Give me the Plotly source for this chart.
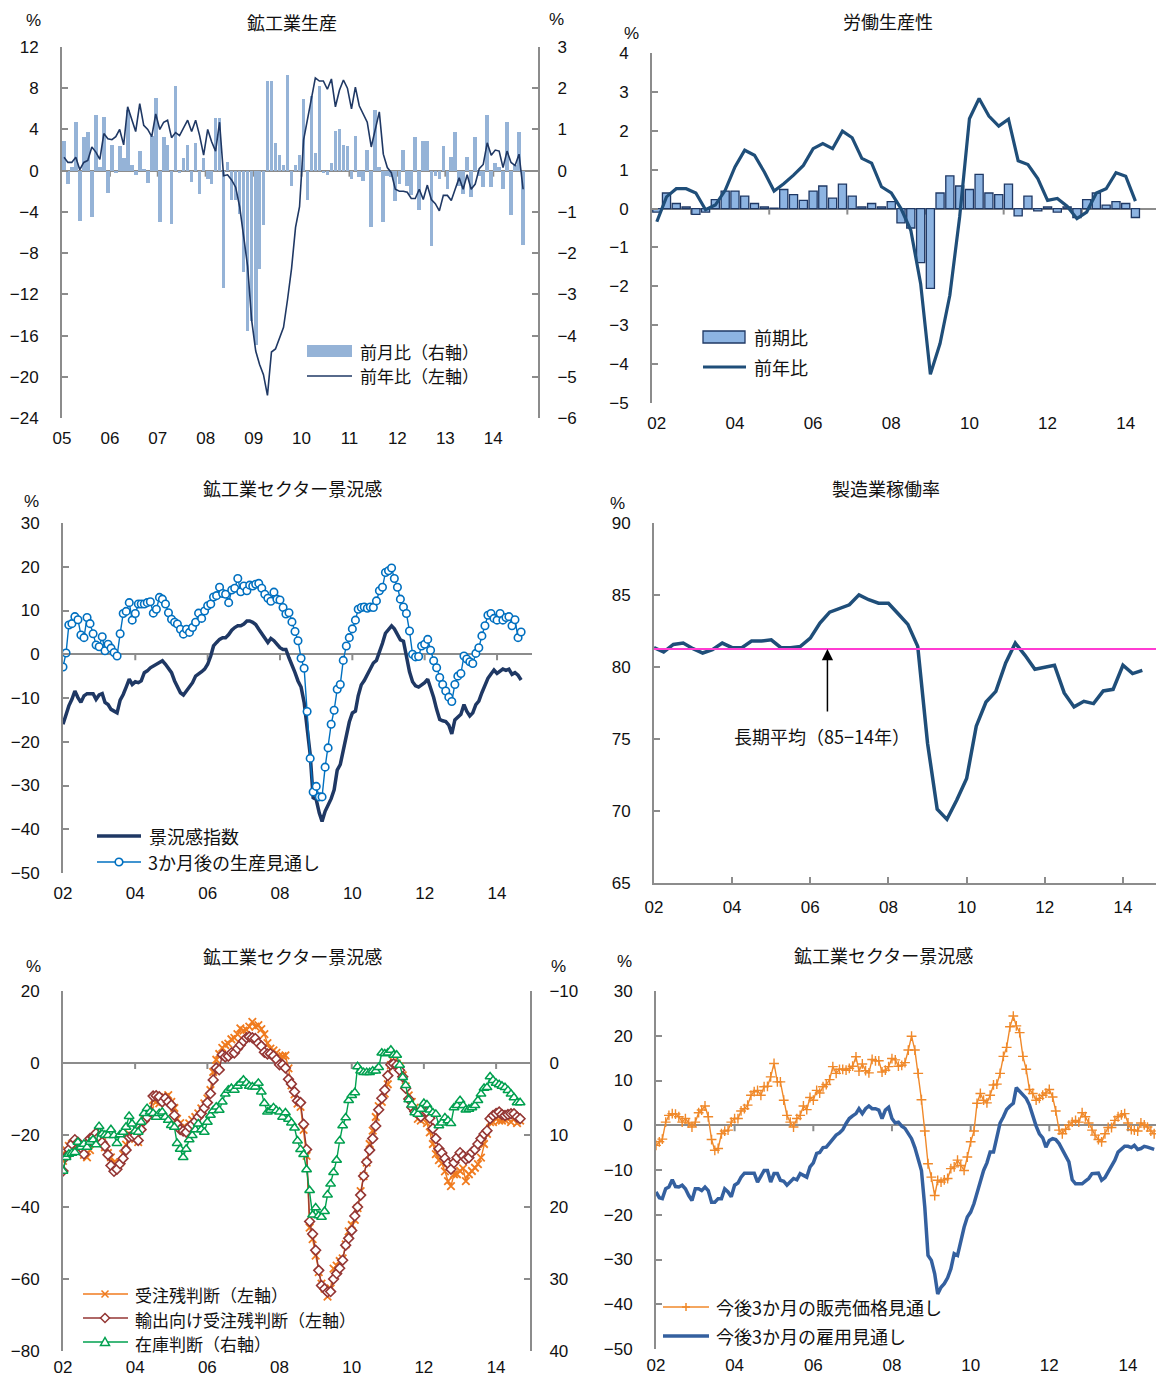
import pandas as pd
import plotly.graph_objects as go

W, H = 1156, 1378
def px(x): return x / W
def py(y): return 1 - y / H

# ---------------- data ----------------
# Panel 1: 鉱工業生産 (monthly 2005-01 .. 2014-08)
ip_months = pd.date_range("2005-01-01", periods=116, freq="MS")
ip_mom = [0.71, -0.32, 0.08, 1.17, -1.21, 0.81, 0.93, -1.12, 1.35, 0.08, 1.31, -0.53,
          0.63, -0.06, 0.61, 0.30, 1.47, 0.14, -0.10, 0.47, 0.04, -0.31, 0.85, 1.76,
          -1.24, 0.81, 0.63, -1.29, 2.06, -0.06, 0.30, 0.63, -0.28, 0.67, -0.57, 0.30,
          -0.20, -0.32, 1.27, 1.27, -2.84, 0.20, -0.70, -0.70, -1.04, -2.47, -3.90, -3.64,
          -4.22, -2.39, -1.33, 2.18, 2.18, 0.67, 0.38, 0.14, 2.31, -0.36, 0.14, 0.39,
          1.74, -0.70, 1.82, 0.42, 2.06, -0.06, -0.10, 0.18, 0.97, 1.01, 0.63, 0.61,
          -0.20, 0.85, -0.15, -0.24, 0.50, -1.37, 1.47, 0.08, -1.24, -0.12, -0.16, -0.73,
          -0.32, 0.50, -0.36, -0.60, 0.81, -0.95, 0.71, 0.71, -1.82, -0.12, -0.20, 0.59,
          -0.44, 0.34, 0.95, -0.36, -0.57, 0.34, -0.65, 0.81, -0.12, -0.40, 1.35, -0.40,
          0.18, 0.08, -0.44, 1.17, -1.08, 0.14, 0.93, -1.80]
ip_yoy = [1.3, 0.8, 0.8, 1.3, 0.1, 0.8, 1.0, 2.3, 1.8, 1.1, 3.6, 3.1,
          3.0, 3.3, 4.0, 2.5, 6.2, 5.0, 3.8, 6.5, 4.4, 4.0, 3.3, 5.5,
          4.0, 4.7, 4.9, 3.2, 3.7, 3.4, 4.1, 4.9, 3.8, 4.9, 3.4, 1.5,
          4.0, 2.8, 1.9, 4.7, -0.5, -0.4, -0.9, -1.6, -3.5, -6.5, -9.3, -14.5,
          -17.5, -18.8, -19.8, -21.8, -17.6, -17.3, -16.2, -15.2, -12.5, -9.5, -5.5, -3.5,
          3.0, 5.0, 7.3, 9.0, 8.7, 8.7, 7.9, 8.9, 6.2, 7.8, 8.8, 8.0,
          6.0, 8.1, 6.3, 5.5, 4.7, 2.3, 3.9, 5.7, 1.6, 0.3, -0.2, -1.8,
          -2.0, -2.0, -2.1, -2.7, -2.7, -1.8, -2.8, -1.4, -2.8, -3.2, -3.9, -2.4,
          -2.4, -2.9, -1.8, -0.7, -1.8, -0.4, -1.8, -1.3, 0.2, 0.6, 2.7, 1.5,
          2.0, 1.9, 0.3, 1.9, 0.8, 0.5, 1.6, -1.8]

# Panel 2: 労働生産性 (quarterly 2002Q1 .. 2014Q2)
lp_quarters = pd.date_range("2002-01-01", periods=50, freq="QS")
lp_qoq = [-0.09, 0.40, 0.13, 0.04, -0.15, -0.09, 0.23, 0.45, 0.45, 0.32, 0.13, 0.04,
          0.01, 0.49, 0.36, 0.21, 0.45, 0.58, 0.27, 0.63, 0.32, 0.04, 0.13, 0.04,
          0.18, -0.37, -0.50, -1.39, -2.05, 0.40, 0.84, 0.58, 0.49, 0.88, 0.40, 0.36,
          0.63, -0.19, 0.32, -0.06, 0.04, -0.09, 0.04, -0.23, 0.23, 0.40, 0.09, 0.18,
          0.13, -0.23]
lp_yoy = [-0.34, 0.30, 0.51, 0.51, 0.40, -0.03, 0.09, 0.47, 1.07, 1.50, 1.37, 0.94,
          0.45, 0.64, 0.86, 1.11, 1.54, 1.67, 1.54, 1.99, 1.82, 1.29, 1.17, 0.56,
          0.40, 0.00, -0.56, -1.93, -4.26, -3.47, -2.23, -0.21, 2.31, 2.83, 2.38, 2.12,
          2.30, 1.23, 1.13, 0.77, 0.21, 0.26, 0.06, -0.26, -0.09, 0.40, 0.51, 0.92,
          0.83, 0.19]

# Panel 3: 鉱工業セクター景況感 (monthly 2002-01 .. 2014-09)
bs_months = pd.date_range("2002-01-01", periods=153, freq="MS")
bs_index = [-16.0, -13.7, -11.8, -10.3, -8.4, -9.9, -11.0, -9.5, -9.0, -9.0, -9.0, -10.3,
            -9.3, -9.0, -11.0, -11.5, -12.6, -13.0, -13.4, -10.5, -9.2, -7.5, -5.7, -6.9,
            -6.3, -6.5, -6.1, -4.2, -3.8, -3.1, -2.7, -2.5, -1.9, -1.5, -2.3, -3.1,
            -4.2, -6.1, -7.6, -8.8, -9.3, -8.4, -7.5, -6.5, -5.0, -4.6, -4.0, -3.4,
            -2.3, -0.4, 1.9, 2.7, 3.4, 3.8, 3.8, 4.5, 5.5, 6.1, 6.5, 6.5,
            6.9, 7.6, 7.6, 7.3, 6.8, 5.7, 4.6, 3.5, 2.7, 3.6, 3.1, 2.3,
            1.5, 1.1, 1.1, -0.8, -2.3, -4.2, -6.1, -7.5, -11.0, -16.8, -22.9, -32.8,
            -33.2, -36.3, -38.2, -35.9, -34.4, -33.0, -31.0, -26.5, -25.2, -22.0, -18.0, -15.5,
            -13.4, -13.0, -9.5, -7.0, -6.0, -4.5, -3.2, -2.0, -1.4, 0.4, 2.5, 4.8,
            5.7, 6.5, 5.8, 4.7, 3.3, 3.0, -1.0, -4.0, -6.3, -7.2, -7.5, -7.0,
            -6.5, -5.7, -7.6, -9.9, -12.6, -14.9, -15.2, -15.4, -16.2, -18.2, -15.0, -14.4,
            -13.7, -11.5, -13.0, -14.1, -13.4, -11.5, -10.7, -8.8, -7.3, -5.5, -4.5, -3.6,
            -4.4, -3.8, -3.4, -3.7, -3.4, -4.6, -4.2, -4.8, -5.9]
bs_prod_outlook = [-2.9, 0.3, 6.7, 7.0, 8.6, 7.9, 4.4, 3.8, 8.4, 7.0, 4.7, 2.1,
                   1.7, 4.0, 0.8, 2.3, 1.4, 0.4, -0.4, 4.7, 9.3, 9.8, 11.8, 7.8,
                   9.3, 11.5, 11.5, 11.5, 11.8, 12.0, 9.4, 10.3, 13.0, 12.6, 11.5, 9.5,
                   8.0, 7.3, 6.9, 5.7, 4.6, 5.7, 5.0, 6.1, 7.3, 9.4, 8.2, 9.9,
                   11.1, 11.5, 13.1, 13.4, 15.3, 13.9, 13.7, 11.8, 14.7, 15.1, 17.3, 14.3,
                   15.6, 14.5, 15.8, 15.6, 16.0, 16.2, 15.1, 13.7, 12.8, 12.1, 14.2, 12.6,
                   12.4, 10.7, 9.2, 9.5, 7.4, 5.2, 3.1, -0.9, -3.2, -13.1, -23.8, -31.5,
                   -30.2, -32.6, -32.6, -25.8, -21.4, -16.0, -12.8, -8.0, -6.9, -1.4, 1.9, 3.8,
                   5.8, 7.8, 10.3, 10.7, 10.8, 10.5, 10.8, 10.7, 12.2, 14.5, 15.3, 18.7,
                   19.1, 19.7, 17.3, 15.3, 12.6, 10.8, 9.3, 5.3, 0.0, -0.6, -0.5, 1.9,
                   2.3, 3.4, 0.9, -1.5, -3.1, -5.3, -6.9, -8.4, -9.8, -10.8, -6.9, -5.0,
                   -4.4, -0.4, -1.1, -1.7, -2.1, 0.2, 1.5, 4.2, 6.5, 8.9, 9.3, 8.2,
                   7.8, 9.3, 7.8, 8.4, 8.6, 6.5, 7.9, 3.8, 5.1]

# Panel 4: 製造業稼働率 (quarterly 2002Q1 .. 2014Q3)
cu_quarters = pd.date_range("2002-01-01", periods=51, freq="QS")
cu_rate = [81.34, 81.04, 81.57, 81.66, 81.27, 80.97, 81.20, 81.66, 81.34, 81.34, 81.80, 81.80,
           81.89, 81.34, 81.34, 81.43, 82.00, 83.05, 83.81, 84.04, 84.32, 85.01, 84.67, 84.43,
           84.43, 83.70, 82.96, 81.43, 74.69, 70.12, 69.42, 70.76, 72.26, 75.89, 77.57, 78.31,
           80.28, 81.66, 80.81, 79.84, 79.95, 80.12, 78.20, 77.23, 77.62, 77.46, 78.34, 78.45,
           80.12, 79.54, 79.77]
cu_long_term_avg = 81.25

# Panel 5: 受注残・輸出向け受注残・在庫判断 (monthly 2002-01 .. 2014-09)
ord_backlog = [-27.2, -24.2, -23.0, -22.5, -22.0, -22.8, -23.4, -25.5, -26.2, -24.2, -21.5, -20.0,
               -21.0, -22.0, -23.4, -25.0, -26.2, -27.6, -29.0, -27.6, -25.3, -22.7, -19.7, -20.5,
               -21.1, -22.0, -17.5, -15.5, -14.0, -13.1, -10.3, -10.8, -11.2, -10.3, -9.5, -8.9,
               -10.8, -12.5, -15.5, -16.7, -17.8, -18.0, -16.8, -15.8, -15.0, -14.0, -12.6, -11.2,
               -9.8, -7.5, -2.5, 0.9, 2.5, 4.2, 5.0, 5.4, 6.6, 7.0, 8.0, 9.6,
               9.0, 9.2, 10.1, 11.4, 10.1, 10.5, 9.4, 8.0, 5.5, 4.0, 3.5, 2.8,
               2.0, 1.9, 2.1, -1.5, -6.2, -8.7, -11.3, -12.2, -18.6, -25.8, -45.7, -48.9,
               -53.5, -58.1, -61.3, -62.7, -64.9, -62.7, -57.1, -56.3, -55.0, -54.3, -50.4, -46.8,
               -45.0, -43.6, -40.3, -35.6, -31.4, -27.7, -22.5, -18.8, -15.0, -12.0, -10.8, -8.5,
               -5.9, -0.6, 0.4, -0.1, -1.0, -3.4, -6.5, -9.0, -10.8, -12.4, -15.5, -16.0,
               -14.1, -16.7, -19.3, -22.5, -25.3, -27.0, -27.9, -30.1, -32.8, -34.2, -30.9, -30.9,
               -30.0, -29.3, -32.8, -30.9, -30.0, -29.1, -28.1, -26.3, -22.5, -19.7, -16.4, -16.4,
               -15.5, -16.0, -16.0, -15.8, -15.5, -16.4, -15.5, -16.7, -16.0]
ord_export = [-30.0, -26.0, -24.0, -22.5, -21.3, -22.0, -23.5, -25.3, -22.5, -21.0, -20.6, -19.5,
              -20.5, -22.0, -23.1, -25.5, -28.5, -30.1, -29.5, -28.0, -26.5, -24.2, -20.6, -20.3,
              -20.1, -21.5, -18.5, -16.0, -15.0, -13.5, -9.2, -9.1, -9.4, -10.8, -9.8, -10.8,
              -11.7, -14.5, -17.0, -18.5, -18.9, -19.2, -17.8, -17.0, -16.2, -15.0, -14.0, -12.5,
              -11.0, -8.5, -4.7, -1.4, -1.9, 2.3, 1.7, 1.9, 2.8, 2.8, 4.0, 5.0,
              6.1, 7.0, 7.3, 7.0, 6.8, 5.5, 4.7, 3.0, 2.5, 2.6, 2.0, 1.0,
              -0.5, -0.5, -1.4, -4.5, -5.8, -8.0, -10.5, -11.0, -17.0, -24.0, -44.0, -47.5,
              -52.0, -57.6, -61.8, -62.7, -63.6, -63.5, -60.0, -58.5, -57.0, -54.8, -50.6, -48.7,
              -46.5, -42.5, -40.0, -36.7, -31.4, -27.5, -24.2, -21.0, -17.5, -13.0, -9.8, -7.5,
              -3.5, -0.5, -0.2, -0.6, -2.0, -3.8, -7.0, -10.0, -12.3, -13.5, -14.1, -14.9,
              -13.4, -13.6, -15.3, -18.2, -21.0, -23.8, -25.0, -26.5, -27.9, -29.5, -27.7, -26.3,
              -24.9, -25.8, -26.7, -26.3, -24.8, -24.0, -22.5, -21.0, -19.7, -18.8, -15.5, -14.6,
              -14.0, -13.6, -14.3, -14.6, -14.3, -14.1, -14.1, -15.0, -15.5]
inventory = [15.0, 13.1, 12.65, 12.5, 12.4, 11.0, 11.7, 11.25, 11.7, 11.0, 10.65, 11.35,
             8.8, 9.85, 10.0, 10.05, 9.25, 10.05, 11.15, 9.95, 9.6, 8.9, 7.4, 8.45,
             9.45, 9.6, 8.2, 7.0, 6.3, 6.8, 7.0, 7.5, 7.0, 6.8, 7.5, 7.95,
             8.65, 8.9, 11.15, 11.95, 13.1, 11.95, 10.65, 10.05, 9.25, 8.45, 9.25, 9.6,
             8.2, 7.25, 6.6, 6.1, 6.55, 5.4, 4.3, 3.75, 3.5, 3.75, 3.2, 2.8,
             2.35, 2.8, 3.2, 3.3, 3.3, 2.8, 4.0, 5.6, 6.8, 6.55, 6.2, 6.6,
             6.8, 7.5, 6.9, 7.8, 8.3, 9.0, 10.8, 12.0, 12.7, 14.8, 17.7, 21.1,
             20.1, 21.2, 21.4, 20.6, 18.3, 16.8, 15.2, 13.5, 10.8, 8.7, 7.6, 5.2,
             4.5, 4.1, 0.5, 1.1, 1.3, 1.3, 1.3, 1.1, 1.1, 0.6, -1.4, -1.3,
             -1.4, -1.8, -1.1, -1.1, 0.3, 2.0, 3.1, 5.1, 5.8, 6.9, 7.1, 6.4,
             5.6, 5.8, 6.5, 6.9, 7.1, 8.7, 8.3, 7.6, 8.0, 8.4, 6.2, 5.9,
             5.2, 5.9, 6.5, 6.4, 6.2, 5.9, 5.2, 4.3, 3.5, 3.4, 1.9, 2.4,
             2.8, 3.0, 3.2, 3.4, 3.8, 4.3, 4.8, 5.5, 5.5]

# Panel 6: 販売価格見通し・雇用見通し (monthly 2002-01 .. 2014-09)
price_outlook = [-4.5, -3.7, -3.1, 0.7, 2.2, 2.6, 2.5, 1.9, 0.7, 1.5, 0.5, -0.4,
                 0.7, 2.8, 3.4, 4.3, 1.9, -3.2, -5.6, -5.2, -1.9, -1.3, -1.1, 0.7,
                 1.5, 1.5, 3.2, 3.7, 4.5, 6.7, 7.5, 7.8, 6.7, 8.6, 8.7, 10.8,
                 13.8, 9.7, 9.7, 5.6, 2.2, 0.7, -0.4, 1.5, 2.2, 4.3, 3.5, 6.2,
                 5.6, 7.8, 7.2, 8.6, 9.1, 10.2, 13.1, 11.6, 12.5, 12.5, 12.3, 12.7,
                 13.2, 15.3, 12.1, 13.7, 12.2, 11.7, 14.7, 14.4, 14.4, 11.9, 12.3, 13.1,
                 14.9, 14.6, 13.2, 13.4, 14.0, 16.8, 19.9, 16.8, 11.6, 5.7, -1.3, -8.6,
                 -11.6, -15.7, -12.3, -12.7, -12.2, -11.9, -9.7, -9.3, -7.8, -9.0, -10.1, -7.1,
                 -3.7, -1.3, 4.9, 7.1, 5.6, 5.0, 6.7, 9.0, 9.2, 11.6, 15.4, 17.4,
                 22.0, 24.4, 22.2, 20.7, 15.4, 12.5, 8.0, 7.1, 5.6, 6.0, 6.7, 7.2,
                 8.0, 6.3, 3.2, -1.1, -1.9, -0.9, 0.0, 0.7, 1.1, 0.7, 2.8, 1.9,
                 0.5, -1.1, -2.2, -3.2, -3.7, -1.9, -0.5, -0.5, 1.1, 1.9, 2.3, 2.6,
                 0.5, -1.0, -1.1, -1.3, 0.5, 0.1, -0.4, -1.3, -1.9]
employment_outlook = [-14.9, -16.2, -16.4, -14.2, -13.8, -12.2, -13.7, -13.8, -13.4, -14.2, -15.7, -16.8,
                      -14.2, -14.2, -14.6, -13.8, -14.6, -17.2, -17.2, -16.4, -16.4, -14.2, -14.9, -16.0,
                      -13.4, -12.9, -11.6, -10.7, -10.7, -10.7, -10.7, -12.7, -11.2, -10.1, -10.1, -12.7,
                      -10.8, -10.8, -12.3, -12.5, -13.4, -12.7, -11.9, -12.2, -10.8, -11.2, -11.6, -9.3,
                      -8.4, -6.3, -6.1, -5.0, -4.9, -4.0, -3.0, -2.2, -1.7, -1.0, 0.4, 1.5,
                      2.1, 2.6, 3.7, 2.6, 3.7, 4.3, 3.7, 3.7, 3.4, 1.5, 3.4, 4.0,
                      1.5, 0.5, 0.7, -0.2, -0.7, -1.9, -3.0, -5.0, -7.5, -10.1, -18.3, -29.1,
                      -30.2, -33.2, -37.7, -36.2, -35.4, -34.1, -32.1, -28.7, -29.1, -25.7, -22.8, -20.5,
                      -19.4, -17.5, -15.1, -12.5, -10.1, -8.4, -6.0, -6.0, -2.6, 0.5, 1.9, 3.5,
                      4.3, 4.9, 8.4, 7.5, 6.7, 6.0, 4.5, 1.9, -0.2, -1.9, -2.8, -4.9,
                      -3.4, -3.0, -3.2, -4.1, -5.5, -6.7, -8.2, -12.2, -13.1, -13.1, -13.1, -12.5,
                      -11.9, -10.8, -10.7, -10.7, -12.3, -11.7, -10.4, -9.0, -7.8, -6.0, -5.3, -4.7,
                      -4.7, -5.0, -4.5, -5.4, -5.2, -4.7, -4.9, -5.2, -5.4]

# ---------------- styling ----------------
GRAY = "#8c8c8c"
NUM_FONT = "Liberation Sans Narrow, Liberation Sans, Arial, sans-serif"
JP_FONT = "Noto Sans CJK JP, sans-serif"
TICKFONT = dict(family=NUM_FONT, size=17, color="#111")
DAY_MS = 86400000

fig = go.Figure()

# Panel 1
fig.add_trace(go.Bar(x=ip_months, y=ip_mom, xaxis="x", yaxis="y",
                     xperiod="M1", xperiodalignment="middle", width=28 * DAY_MS,
                     marker=dict(color="#95B3D7", line=dict(width=0))))
fig.add_trace(go.Scatter(x=ip_months, y=ip_yoy, xaxis="x", yaxis="y2", mode="lines",
                         xperiod="M1", xperiodalignment="middle",
                         line=dict(color="#1F3864", width=1.6)))
# Panel 2
fig.add_trace(go.Bar(x=lp_quarters, y=lp_qoq, xaxis="x2", yaxis="y3",
                     xperiod="M3", xperiodalignment="middle", width=76 * DAY_MS,
                     marker=dict(color="#8DB4E2", line=dict(color="#1F3864", width=1.3))))
fig.add_trace(go.Scatter(x=lp_quarters, y=lp_yoy, xaxis="x2", yaxis="y3", mode="lines",
                         xperiod="M3", xperiodalignment="middle",
                         line=dict(color="#1F4E79", width=3.2)))
# Panel 3
fig.add_trace(go.Scatter(x=bs_months, y=bs_index, xaxis="x3", yaxis="y4", mode="lines",
                         line=dict(color="#1F3864", width=3.5)))
fig.add_trace(go.Scatter(x=bs_months, y=bs_prod_outlook, xaxis="x3", yaxis="y4", mode="lines+markers",
                         line=dict(color="#0070C0", width=1.4),
                         marker=dict(symbol="circle", size=7.5, color="white",
                                     line=dict(color="#0070C0", width=1.6))))
# Panel 4
fig.add_trace(go.Scatter(x=cu_quarters, y=cu_rate, xaxis="x4", yaxis="y5", mode="lines",
                         line=dict(color="#1F4E79", width=3.5)))
# Panel 5
fig.add_trace(go.Scatter(x=bs_months, y=ord_backlog, xaxis="x5", yaxis="y6", mode="lines+markers",
                         line=dict(color="#F07B1F", width=1.4),
                         marker=dict(symbol="x-thin", size=7.5, line=dict(color="#F07B1F", width=1.8))))
fig.add_trace(go.Scatter(x=bs_months, y=ord_export, xaxis="x5", yaxis="y6", mode="lines+markers",
                         line=dict(color="#943634", width=1.4),
                         marker=dict(symbol="diamond", size=7.5, color="white",
                                     line=dict(color="#943634", width=1.6))))
fig.add_trace(go.Scatter(x=bs_months, y=inventory, xaxis="x5", yaxis="y7", mode="lines+markers",
                         line=dict(color="#00A04F", width=1.4),
                         marker=dict(symbol="triangle-up", size=8.5, color="white",
                                     line=dict(color="#00A04F", width=1.5))))
# Panel 6
fig.add_trace(go.Scatter(x=bs_months, y=price_outlook, xaxis="x6", yaxis="y8", mode="lines+markers",
                         line=dict(color="#F0892A", width=1.4),
                         marker=dict(symbol="cross-thin", size=7, line=dict(color="#F0892A", width=1.4))))
fig.add_trace(go.Scatter(x=bs_months, y=employment_outlook, xaxis="x6", yaxis="y8", mode="lines",
                         line=dict(color="#34609F", width=3.5)))

def xax(x0, x1, rng, tick0, dtick, **kw):
    d = dict(domain=[px(x0), px(x1)], range=rng, type="date", tick0=tick0, dtick=dtick,
             tickformat="%y", showgrid=False, zeroline=False, showline=False, ticks="",
             tickfont=TICKFONT, ticklabelstandoff=8, fixedrange=True, automargin=False)
    d.update(kw)
    return d

def yax(y_bottom, y_top, rng, dtick, side="left", **kw):
    d = dict(domain=[py(y_bottom), py(y_top)], range=rng, dtick=dtick, side=side,
             showgrid=False, zeroline=False, showline=True, linecolor=GRAY, linewidth=2,
             ticks="inside", ticklen=6, tickwidth=2, tickcolor=GRAY,
             tickfont=TICKFONT, ticklabelstandoff=18, fixedrange=True, automargin=False)
    d.update(kw)
    return d

ZL = dict(zeroline=True, zerolinecolor=GRAY, zerolinewidth=2)

fig.update_layout(
    width=W, height=H, margin=dict(l=0, r=0, t=0, b=0, pad=0, autoexpand=False),
    paper_bgcolor="white", plot_bgcolor="rgba(0,0,0,0)", showlegend=False,
    bargap=0,
    xaxis=xax(62, 538, ["2005-01-01", "2014-12-08"], "2005-01-01", "M12", anchor="y"),
    yaxis=yax(418, 47, [-6, 3], 1, side="right", anchor="x", ticklabelstandoff=14, **ZL),
    yaxis2=yax(418, 47, [-24, 12], 4, side="left", anchor="x", overlaying="y"),
    xaxis2=xax(652, W, ["2002-01-01", "2014-11-25"], "2002-02-15", "M24", anchor="y3"),
    yaxis3=yax(403, 53, [-5, 4], 1, anchor="x2", **ZL),
    xaxis3=xax(63, 532, ["2002-01-01", "2014-12-20"], "2002-01-01", "M24", anchor="y4"),
    yaxis4=yax(873, 523, [-50, 30], 10, anchor="x3", **ZL),
    xaxis4=xax(654, W, ["2002-01-01", "2014-11-06"], "2002-01-01", "M24", anchor="y5",
               showline=True, linecolor=GRAY, linewidth=2, ticks="inside", ticklen=6,
               tickwidth=2, tickcolor=GRAY),
    yaxis5=yax(883, 523, [65, 90], 5, anchor="x4"),
    xaxis5=xax(63, 530, ["2002-01-01", "2014-12-10"], "2002-01-01", "M24", anchor="y6",
               ticklabelstandoff=4),
    yaxis6=yax(1351, 991, [-80, 20], 20, anchor="x5", **ZL),
    yaxis7=yax(1351, 991, [40, -10], 10, side="right", anchor="x5", overlaying="y6",
               ticklabelstandoff=14),
    xaxis6=xax(656, W, ["2002-01-01", "2014-09-18"], "2002-01-01", "M24", anchor="y8",
               ticklabelstandoff=4),
    yaxis8=yax(1349, 991, [-50, 30], 10, anchor="x6", **ZL),
)

shapes = []
# tick marks along the zero lines (category-axis ticks)
def zero_ticks(xref, yref, years):
    for yr in years:
        shapes.append(dict(type="line", xref=xref, yref=yref, x0=f"{yr}-01-01", x1=f"{yr}-01-01",
                           ysizemode="pixel", yanchor=0, y0=0, y1=-6,
                           line=dict(color=GRAY, width=2), layer="below"))
zero_ticks("x", "y", range(2006, 2015))
zero_ticks("x2", "y3", range(2003, 2014, 2))
zero_ticks("x3", "y4", range(2004, 2015, 2))
zero_ticks("x5", "y6", range(2004, 2015, 2))
zero_ticks("x6", "y8", range(2004, 2015, 2))

# long-term average line (panel 4)
shapes.append(dict(type="line", xref="x4 domain", yref="y5", x0=0, x1=1,
                   y0=cu_long_term_avg, y1=cu_long_term_avg,
                   line=dict(color="#FF3CD2", width=2)))

annotations = []
def text(x, y, s, size=18, xanchor="center", font=JP_FONT):
    annotations.append(dict(xref="paper", yref="paper", x=px(x), y=py(y), text=s,
                            showarrow=False, xanchor=xanchor, yanchor="middle",
                            font=dict(family=font, size=size, color="#111")))

# titles
text(292, 22, "鉱工業生産")
text(888, 21, "労働生産性")
text(292, 488, "鉱工業セクター景況感")
text(886, 488, "製造業稼働率")
text(292, 956, "鉱工業セクター景況感")
text(884, 955, "鉱工業セクター景況感")
# % labels
for (x, y) in [(33, 21), (556, 20), (631, 34), (31, 501), (617, 503), (33, 966), (558, 966), (624, 962)]:
    text(x, y, "%", size=17, font=NUM_FONT)

# ---- legends (drawn) ----
def leg_line(x0, x1, y, color, width):
    shapes.append(dict(type="line", xref="paper", yref="paper", x0=px(x0), x1=px(x1),
                       y0=py(y), y1=py(y), line=dict(color=color, width=width)))

def leg_rect(x0, x1, y0, y1, fill, lc=None, lw=0):
    shapes.append(dict(type="rect", xref="paper", yref="paper", x0=px(x0), x1=px(x1),
                       y0=py(y1), y1=py(y0), fillcolor=fill,
                       line=dict(color=lc or fill, width=lw)))

def leg_marker(x, y, path, color, fill="white"):
    shapes.append(dict(type="path", xref="paper", yref="paper",
                       xsizemode="pixel", ysizemode="pixel", xanchor=px(x), yanchor=py(y),
                       path=path, fillcolor=fill, line=dict(color=color, width=1.5)))

def leg_circle(x, y, r, color):
    shapes.append(dict(type="circle", xref="paper", yref="paper",
                       xsizemode="pixel", ysizemode="pixel", xanchor=px(x), yanchor=py(y),
                       x0=-r, x1=r, y0=-r, y1=r, fillcolor="white",
                       line=dict(color=color, width=1.6)))

XMARK = "M-3.5,-3.5L3.5,3.5M-3.5,3.5L3.5,-3.5"
DIAMOND = "M0,4.5L4.5,0L0,-4.5L-4.5,0Z"
TRI = "M-4.5,-3.5L4.5,-3.5L0,4.5Z"
PLUS = "M-4,0L4,0M0,-4L0,4"

# panel 1
leg_rect(307, 352, 345, 357, "#95B3D7")
text(358, 351, "前月比（右軸）", size=17, xanchor="left")
leg_line(307, 352, 376, "#1F3864", 1.6)
text(358, 376, "前年比（左軸）", size=17, xanchor="left")
# panel 2
leg_rect(703, 745, 331, 343, "#8DB4E2", "#1F3864", 1.3)
text(752, 337, "前期比", size=18, xanchor="left")
leg_line(703, 746, 367, "#1F4E79", 3.2)
text(752, 367, "前年比", size=18, xanchor="left")
# panel 3
leg_line(97, 141, 836, "#1F3864", 3.5)
text(147, 836, "景況感指数", size=18, xanchor="left")
leg_line(97, 141, 862, "#0070C0", 1.4)
leg_circle(119, 862, 3.8, "#0070C0")
text(146, 862, "3か月後の生産見通し", size=18, xanchor="left")
# panel 5
leg_line(83, 128, 1294, "#F07B1F", 1.4)
leg_marker(105, 1294, XMARK, "#F07B1F")
text(133, 1294, "受注残判断（左軸）", size=17, xanchor="left")
leg_line(83, 128, 1318, "#943634", 1.4)
leg_marker(105, 1318, DIAMOND, "#943634")
text(133, 1319, "輸出向け受注残判断（左軸）", size=17, xanchor="left")
leg_line(83, 128, 1342, "#00A04F", 1.4)
leg_marker(105, 1342, TRI, "#00A04F")
text(133, 1343, "在庫判断（右軸）", size=17, xanchor="left")
# panel 6
leg_line(663, 709, 1307, "#F0892A", 1.4)
leg_marker(686, 1307, PLUS, "#F0892A")
text(714, 1307, "今後3か月の販売価格見通し", size=18, xanchor="left")
leg_line(663, 709, 1336, "#34609F", 3.5)
text(714, 1336, "今後3か月の雇用見通し", size=18, xanchor="left")

# panel 4 arrow + label
annotations.append(dict(xref="x4", yref="y5", x="2006-06-10", y=cu_long_term_avg,
                        axref="x4", ayref="y5", ax="2006-06-10", ay=76.8, text="",
                        showarrow=True, arrowhead=2, arrowsize=1.5, arrowwidth=1.5,
                        arrowcolor="black", standoff=0))
annotations.append(dict(xref="x4", yref="y5", x="2006-04-20", y=75.2,
                        text="長期平均（85−14年）", showarrow=False,
                        font=dict(family=JP_FONT, size=18, color="#111")))

fig.update_layout(shapes=shapes, annotations=annotations)
fig.write_html(
    "out.html",
    config={"displayModeBar": False, "staticPlot": True},
    post_script="document.body.style.margin='0';document.body.style.padding='0';"
                "document.documentElement.style.overflow='hidden';",
)
